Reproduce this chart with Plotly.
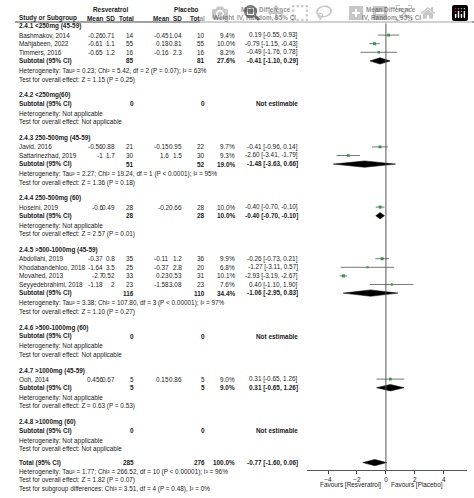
import plotly.graph_objects as go

# ---- data ----
groups = ["2.4.1 <250mg (45-59)", "2.4.2 <250mg(60)", "2.4.3 250-500mg (45-59)", "2.4.4 250-500mg (60)",
          "2.4.5 >500-1000mg (45-59)", "2.4.6 >500-1000mg (60)", "2.4.7 >1000mg (45-59)", "2.4.8 >1000mg (60)"]
studies = [
    [("Bashmakov, 2014", "-0.26", "0.71", "14", "-0.45", "1.04", "10", "9.4%", 0.19, -0.55, 0.93, 9.4),
     ("Mahjabeen, 2022", "-0.61", "1.1", "55", "0.18", "0.81", "55", "10.0%", -0.79, -1.15, -0.43, 10.0),
     ("Timmers, 2016", "-0.65", "1.2", "16", "-0.16", "2.3", "16", "8.2%", -0.49, -1.76, 0.78, 8.2)],
    [],
    [("Javid, 2016", "-0.56", "0.88", "21", "-0.15", "0.95", "22", "9.7%", -0.41, -0.96, 0.14, 9.7),
     ("Sattarinezhad, 2019", "-1", "1.7", "30", "1.6", "1.5", "30", "9.3%", -2.60, -3.41, -1.79, 9.3)],
    [("Hoseini, 2019", "-0.6", "0.49", "28", "-0.2", "0.66", "28", "10.0%", -0.40, -0.70, -0.10, 10.0)],
    [("Abdollahi, 2019", "-0.37", "0.8", "35", "-0.11", "1.2", "36", "9.9%", -0.26, -0.73, 0.21, 9.9),
     ("Khodabandehloo, 2018", "-1.64", "3.5", "25", "-0.37", "2.8", "20", "6.8%", -1.27, -3.11, 0.57, 6.8),
     ("Movahed, 2013", "-2.7", "0.52", "33", "0.23", "0.53", "31", "10.1%", -2.93, -3.19, -2.67, 10.1),
     ("Seyyedebrahimi, 2018", "-1.18", "2", "23", "-1.58", "3.08", "23", "7.6%", 0.40, -1.10, 1.90, 7.6)],
    [],
    [("Ooh, 2014", "0.456", "0.67", "5", "0.15", "0.86", "5", "9.0%", 0.31, -0.65, 1.26, 9.0)],
    [],
]
subtotals = [("85", "81", "27.6%", -0.41, -1.10, 0.29), ("0", "0", "", None, None, None),
             ("51", "52", "19.0%", -1.48, -3.63, 0.66), ("28", "28", "10.0%", -0.40, -0.70, -0.10),
             ("116", "110", "34.4%", -1.06, -2.95, 0.83), ("0", "0", "", None, None, None),
             ("5", "5", "9.0%", 0.31, -0.65, 1.26), ("0", "0", "", None, None, None)]
heterog = ["Heterogeneity: Tau² = 0.23; Chi² = 5.42, df = 2 (P = 0.07); I² = 63%", "Heterogeneity: Not applicable",
           "Heterogeneity: Tau² = 2.27; Chi² = 19.24, df = 1 (P < 0.0001); I² = 95%", "Heterogeneity: Not applicable",
           "Heterogeneity: Tau² = 3.38; Chi² = 107.80, df = 3 (P < 0.00001); I² = 97%", "Heterogeneity: Not applicable",
           "Heterogeneity: Not applicable", "Heterogeneity: Not applicable"]
effects = ["Test for overall effect: Z = 1.15 (P = 0.25)", "Test for overall effect: Not applicable",
           "Test for overall effect: Z = 1.36 (P = 0.18)", "Test for overall effect: Z = 2.57 (P = 0.01)",
           "Test for overall effect: Z = 1.10 (P = 0.27)", "Test for overall effect: Not applicable",
           "Test for overall effect: Z = 0.63 (P = 0.53)", "Test for overall effect: Not applicable"]
total = ("285", "276", "100.0%", -0.77, -1.60, 0.06)
total_notes = ["Heterogeneity: Tau² = 1.77; Chi² = 266.52, df = 10 (P < 0.00001); I² = 96%",
               "Test for overall effect: Z = 1.82 (P = 0.07)",
               "Test for subgroup differences: Chi² = 3.51, df = 4 (P = 0.48), I² = 0%"]
tick_vals = [-4, -2, 0, 2, 4]

# ---- layout helpers ----
W, H = 474, 498
FS = 6.4
FONT = "Liberation Sans, Arial"
cols_r = [105, 117, 136, 171, 184, 207, 237, 300]  # right edges of numeric columns
ann, shapes = [], []
fig = go.Figure()


def txt(x, y, s, anchor="left", bold=False, color="#222"):
    ann.append(dict(x=x / W, y=1 - y / H, xref="paper", yref="paper", text=f"<b>{s}</b>" if bold else s,
                    showarrow=False, xanchor=anchor, yanchor="middle", font=dict(size=FS, family=FONT, color=color)))


def fmt_ci(m, l, h):
    return f"{m:.2f} [{l:.2f}, {h:.2f}]"


def diamond(m, l, h, y):
    fig.add_trace(go.Scatter(x=[l, m, h, m, l], y=[y, y - 3.2, y, y + 3.2, y], fill="toself", mode="lines",
                             line=dict(color="black", width=0.5), fillcolor="black", hoverinfo="skip"))


def study_mark(m, l, h, w, y):
    fig.add_trace(go.Scatter(x=[l, h], y=[y, y], mode="lines", line=dict(color="#555", width=0.8), hoverinfo="skip"))
    fig.add_trace(go.Scatter(x=[m], y=[y], mode="markers", hoverinfo="skip",
                             marker=dict(symbol="square", size=w * 0.3, color="#2e9e3a")))


# headers
txt(110, 9, "Resveratrol", "center", True)
txt(186, 9, "Placebo", "center", True)
txt(266, 9, "Mean Difference", "center", True)
txt(391, 9, "Mean Difference", "center", True)
txt(17, 18, "Study or Subgroup", "left", True)
for s, x in zip(["Mean", "SD", "Total", "Mean", "SD", "Total", "Weight"], cols_r[:7]):
    txt(x, 18, s, "right", True)
txt(266, 18, "IV, Random, 95% CI", "center", True)
txt(391, 18, "IV, Random, 95% CI", "center", True)
shapes.append(dict(type="line", xref="paper", yref="paper", x0=15 / W, x1=1, y0=1 - 22 / H, y1=1 - 22 / H,
                   line=dict(color="#444", width=1)))

y = 26.5
STEP = 8.6
for gi, g in enumerate(groups):
    txt(17, y, g, bold=True)
    y += STEP
    for s in studies[gi]:
        txt(17, y, s[0])
        for v, x in zip(s[1:8], cols_r[:7]):
            txt(x, y, v, "right")
        txt(cols_r[7], y, fmt_ci(*s[8:11]), "right")
        study_mark(s[8], s[9], s[10], s[11], y)
        y += STEP
    st = subtotals[gi]
    txt(17, y, "Subtotal (95% CI)", bold=True)
    txt(cols_r[2], y, st[0], "right", True)
    txt(cols_r[5], y, st[1], "right", True)
    if st[3] is None:
        txt(cols_r[7], y, "Not estimable", "right", True)
    else:
        txt(cols_r[6], y, st[2], "right", True)
        txt(cols_r[7], y, fmt_ci(*st[3:6]), "right", True)
        diamond(st[3], st[4], st[5], y)
    y += 10
    txt(17, y, heterog[gi])
    y += STEP
    txt(17, y, effects[gi])
    y += 15.8

y -= 2.5
txt(17, y, "Total (95% CI)", bold=True)
txt(cols_r[2], y, total[0], "right", True)
txt(cols_r[5], y, total[1], "right", True)
txt(cols_r[6], y, total[2], "right", True)
txt(cols_r[7], y, fmt_ci(*total[3:6]), "right", True)
diamond(total[3], total[4], total[5], y)
for k, n in enumerate(total_notes):
    txt(17, y + 9 + 8.6 * k, n)

axis_y = 470
shapes.append(dict(type="line", xref="x", yref="y", x0=0, x1=0, y0=22, y1=axis_y, line=dict(color="#555", width=1)))
txt(383, 485, "Favours [Resveratrol]", "right")
txt(389, 485, "Favours [Placebo]", "left")

fig.update_layout(
    width=W, height=H, margin=dict(l=0, r=0, t=0, b=0), showlegend=False,
    plot_bgcolor="white", paper_bgcolor="white", annotations=ann, shapes=shapes,
    xaxis=dict(domain=[307 / W, 467 / W], range=[-5.45, 5.6], anchor="free", position=1 - axis_y / H,
               tickvals=tick_vals, ticks="outside", ticklen=3, showline=True, linecolor="#555", linewidth=1,
               showgrid=False, zeroline=False, tickfont=dict(size=FS, family=FONT, color="#222")),
    yaxis=dict(domain=[0, 1], range=[H, 0], visible=False),
)
fig.write_html("out.html", post_script="document.body.style.margin='0';document.body.style.overflow='hidden';")
